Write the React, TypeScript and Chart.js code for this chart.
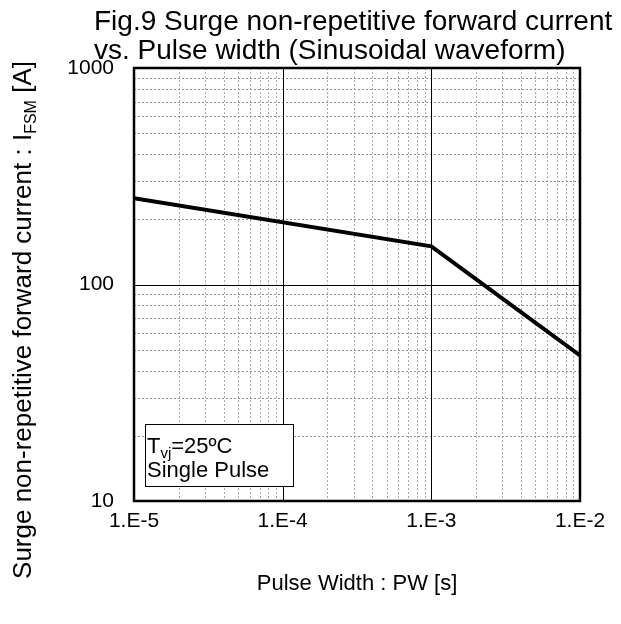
import React, { useEffect, useRef } from "react";
import { Chart, registerables } from "chart.js";

Chart.register(...registerables);

const pulseWidth = [1e-5, 1e-3, 1e-2];
const surgeCurrent = [250, 150, 47];
const xTickValues = [1e-5, 1e-4, 1e-3, 1e-2];
const xTickLabels = ["1.E-5", "1.E-4", "1.E-3", "1.E-2"];
const yTickValues = [10, 100, 1000];
const yTickLabels = ["10", "100", "1000"];
const titleLines = [
  "Fig.9 Surge non-repetitive forward current",
  "vs. Pulse width (Sinusoidal waveform)",
];
const minorMultipliers = [2, 3, 4, 5, 6, 7, 8, 9];

const FONT = "'Liberation Sans', Arial, sans-serif";

const gridPlugin = {
  id: "logGrid",
  beforeDatasetsDraw(chart: any) {
    const { ctx, chartArea: a, scales } = chart;
    const xs = scales.x;
    const ys = scales.y;
    ctx.save();
    ctx.lineWidth = 1;
    ctx.strokeStyle = "#a8a8a8";
    ctx.setLineDash([2, 2]);
    for (let i = 0; i < xTickValues.length - 1; i++) {
      for (const m of minorMultipliers) {
        const px = Math.round(xs.getPixelForValue(xTickValues[i] * m)) + 0.5;
        ctx.beginPath();
        ctx.moveTo(px, a.top);
        ctx.lineTo(px, a.bottom);
        ctx.stroke();
      }
    }
    ctx.strokeStyle = "#909090";
    for (let i = 0; i < yTickValues.length - 1; i++) {
      for (const m of minorMultipliers) {
        const py = Math.round(ys.getPixelForValue(yTickValues[i] * m)) + 0.5;
        ctx.beginPath();
        ctx.moveTo(a.left, py);
        ctx.lineTo(a.right, py);
        ctx.stroke();
      }
    }
    ctx.setLineDash([]);
    ctx.strokeStyle = "#000";
    for (let i = 1; i < xTickValues.length - 1; i++) {
      const px = Math.round(xs.getPixelForValue(xTickValues[i])) + 0.5;
      ctx.beginPath();
      ctx.moveTo(px, a.top);
      ctx.lineTo(px, a.bottom);
      ctx.stroke();
    }
    for (let i = 1; i < yTickValues.length - 1; i++) {
      const py = Math.round(ys.getPixelForValue(yTickValues[i])) + 0.5;
      ctx.beginPath();
      ctx.moveTo(a.left, py);
      ctx.lineTo(a.right, py);
      ctx.stroke();
    }
    ctx.restore();
  },
  afterDatasetsDraw(chart: any) {
    const { ctx, chartArea: a } = chart;
    ctx.save();
    ctx.strokeStyle = "#000";
    ctx.lineWidth = 2.5;
    ctx.strokeRect(a.left, a.top, a.right - a.left, a.bottom - a.top);

    const bx = a.left + 11;
    const by = a.bottom - 77;
    const bw = 148;
    const bh = 62;
    ctx.fillStyle = "#fff";
    ctx.fillRect(bx, by, bw, bh);
    ctx.lineWidth = 1;
    ctx.strokeRect(bx + 0.5, by + 0.5, bw, bh);
    ctx.fillStyle = "#000";
    ctx.textBaseline = "alphabetic";
    ctx.textAlign = "left";
    ctx.font = `22px ${FONT}`;
    let x = bx + 2;
    ctx.fillText("T", x, by + 29);
    x += ctx.measureText("T").width;
    ctx.font = `15px ${FONT}`;
    ctx.fillText("vj", x, by + 34);
    x += ctx.measureText("vj").width;
    ctx.font = `22px ${FONT}`;
    ctx.fillText("=25ºC", x, by + 29);
    ctx.fillText("Single Pulse", bx + 2, by + 53);

    ctx.font = `28px ${FONT}`;
    ctx.fillText(titleLines[0], 94, 30);
    ctx.fillText(titleLines[1], 94, 59);

    ctx.textAlign = "center";
    ctx.font = `22px ${FONT}`;
    ctx.fillText("Pulse Width : PW [s]", (a.left + a.right) / 2, 590);

    ctx.translate(31, 320);
    ctx.rotate(-Math.PI / 2);
    const p1 = "Surge non-repetitive forward current : I";
    const p2 = "FSM";
    const p3 = " [A]";
    ctx.font = `26px ${FONT}`;
    const w1 = ctx.measureText(p1).width;
    const w3 = ctx.measureText(p3).width;
    ctx.font = `16px ${FONT}`;
    const w2 = ctx.measureText(p2).width;
    const total = w1 + w2 + w3;
    ctx.textAlign = "left";
    let tx = -total / 2;
    ctx.font = `26px ${FONT}`;
    ctx.fillText(p1, tx, 0);
    tx += w1;
    ctx.font = `16px ${FONT}`;
    ctx.fillText(p2, tx, 5);
    tx += w2;
    ctx.font = `26px ${FONT}`;
    ctx.fillText(p3, tx, 0);
    ctx.restore();
  },
};

export default function App() {
  const ref = useRef<HTMLCanvasElement | null>(null);
  useEffect(() => {
    document.body.style.margin = "0";
    const canvas = ref.current!;
    const chart = new Chart(canvas, {
      type: "scatter",
      data: {
        datasets: [
          {
            data: pulseWidth.map((x, i) => ({ x, y: surgeCurrent[i] })),
            showLine: true,
            borderColor: "#000",
            borderWidth: 4,
            pointRadius: 0,
            fill: false,
          },
        ],
      },
      options: {
        responsive: false,
        animation: false,
        layout: { padding: { left: 0, right: 41, top: 68, bottom: 0 } },
        plugins: { legend: { display: false }, title: { display: false }, tooltip: { enabled: false } },
        scales: {
          x: {
            type: "logarithmic",
            min: xTickValues[0],
            max: xTickValues[xTickValues.length - 1],
            grid: { display: false, drawTicks: false },
            border: { display: false },
            afterBuildTicks: (s: any) => {
              s.ticks = xTickValues.map((v) => ({ value: v }));
            },
            afterFit: (s: any) => {
              s.height = 123;
            },
            ticks: {
              padding: 8,
              color: "#000",
              font: { family: FONT, size: 21 },
              maxRotation: 0,
              autoSkip: false,
              callback: (v: any) => {
                const i = xTickValues.findIndex((t) => Math.abs(t - v) / t < 1e-6);
                return i >= 0 ? xTickLabels[i] : "";
              },
            },
          },
          y: {
            type: "logarithmic",
            min: yTickValues[0],
            max: yTickValues[yTickValues.length - 1],
            grid: { display: false, drawTicks: false },
            border: { display: false },
            afterBuildTicks: (s: any) => {
              s.ticks = yTickValues.map((v) => ({ value: v }));
            },
            afterFit: (s: any) => {
              s.width = 134;
            },
            ticks: {
              padding: 20,
              color: "#000",
              font: { family: FONT, size: 21 },
              autoSkip: false,
              callback: (v: any) => {
                const i = yTickValues.findIndex((t) => Math.abs(t - v) / t < 1e-6);
                return i >= 0 ? yTickLabels[i] : "";
              },
            },
          },
        },
      },
      plugins: [gridPlugin],
    } as any);
    return () => chart.destroy();
  }, []);
  return <canvas ref={ref} width={621} height={624} style={{ display: "block" }} />;
}
